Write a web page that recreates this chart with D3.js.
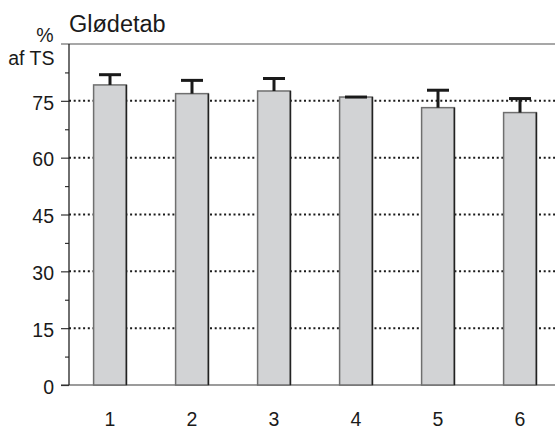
<!DOCTYPE html>
<html>
<head>
<meta charset="utf-8">
<script src="https://cdn.jsdelivr.net/npm/d3@7"></script>
<style>
  html, body { margin: 0; padding: 0; background: #fff; }
  svg { display: block; font-family: "Liberation Sans", Arial, Helvetica, sans-serif; }
</style>
</head>
<body>
<svg id="chart" width="555" height="431"></svg>
<script>
// Glødetab (% af TS) per sample, mean with upper error bar
const categories = ["1", "2", "3", "4", "5", "6"];
const means = [79.2, 76.9, 77.6, 76.0, 73.2, 71.9];
const errors = [2.7, 3.5, 3.3, 0, 4.6, 3.7];
const majorTicks = [0, 15, 30, 45, 60, 75];
const minorTicks = [7.5, 22.5, 37.5, 52.5, 67.5, 82.5];
const gridTicks = [15, 30, 45, 60, 75];

const W = 555, H = 431;
const plotLeft = 69, plotTop = 44, plotBottom = 385;
const labelSize = 19.5;

const svg = d3.select("#chart");

const x = d3.scaleBand()
  .domain(categories)
  .range([plotLeft, plotLeft + 492])
  .paddingInner(0.6)
  .paddingOuter(0.3);

const y = d3.scaleLinear()
  .domain([0, 90])
  .range([plotBottom, plotTop]);

// dotted gridlines behind the bars
svg.append("g")
  .selectAll("line")
  .data(gridTicks)
  .join("line")
  .attr("x1", plotLeft)
  .attr("x2", W)
  .attr("y1", d => y(d))
  .attr("y2", d => y(d))
  .attr("stroke", "#1a1a1a")
  .attr("stroke-width", 2)
  .attr("stroke-dasharray", "2 2.7");

// frame lines: top and baseline
svg.append("line")
  .attr("x1", plotLeft - 8).attr("x2", W)
  .attr("y1", y(90)).attr("y2", y(90))
  .attr("stroke", "#8a8a8a").attr("stroke-width", 1.5);
svg.append("line")
  .attr("x1", plotLeft - 8).attr("x2", W)
  .attr("y1", y(0)).attr("y2", y(0))
  .attr("stroke", "#7a7a7a").attr("stroke-width", 1.5);

// bars
const bars = svg.append("g");
bars.selectAll("rect")
  .data(means)
  .join("rect")
  .attr("x", (d, i) => x(categories[i]))
  .attr("y", d => y(d))
  .attr("width", x.bandwidth())
  .attr("height", d => y(0) - y(d))
  .attr("fill", "#d2d3d5")
  .attr("stroke", "#6f6f6f")
  .attr("stroke-width", 1.5);
bars.selectAll("line.redge")
  .data(means)
  .join("line")
  .attr("class", "redge")
  .attr("x1", (d, i) => x(categories[i]) + x.bandwidth())
  .attr("x2", (d, i) => x(categories[i]) + x.bandwidth())
  .attr("y1", d => y(d))
  .attr("y2", y(0))
  .attr("stroke", "#222")
  .attr("stroke-width", 1.5);

// error bars
const eb = svg.append("g").attr("stroke", "#1a1a1a");
eb.selectAll("line.stem")
  .data(means)
  .join("line")
  .attr("class", "stem")
  .attr("x1", (d, i) => x(categories[i]) + x.bandwidth() / 2)
  .attr("x2", (d, i) => x(categories[i]) + x.bandwidth() / 2)
  .attr("y1", d => y(d))
  .attr("y2", (d, i) => y(d + errors[i]))
  .attr("stroke-width", 3);
eb.selectAll("line.cap")
  .data(means)
  .join("line")
  .attr("class", "cap")
  .attr("x1", (d, i) => x(categories[i]) + x.bandwidth() / 2 - 11)
  .attr("x2", (d, i) => x(categories[i]) + x.bandwidth() / 2 + 11)
  .attr("y1", (d, i) => y(d + errors[i]))
  .attr("y2", (d, i) => y(d + errors[i]))
  .attr("stroke-width", 3);

// left axis: major ticks with labels, minor ticks without
const yAxis = svg.append("g")
  .attr("transform", `translate(${plotLeft},0)`)
  .call(d3.axisLeft(y).tickValues(majorTicks).tickSize(8).tickPadding(7));
yAxis.select(".domain").remove();
yAxis.selectAll(".tick line").attr("stroke", "#333").attr("stroke-width", 1.2);
yAxis.selectAll(".tick text")
  .attr("font-size", labelSize)
  .attr("fill", "#1a1a1a")
  .attr("dy", "0.42em")
  .style("font-family", "'Liberation Sans', Arial, sans-serif");

const yMinor = svg.append("g")
  .attr("transform", `translate(${plotLeft},0)`)
  .call(d3.axisLeft(y).tickValues(minorTicks).tickSize(4).tickFormat(""));
yMinor.select(".domain").remove();
yMinor.selectAll(".tick line").attr("stroke", "#333").attr("stroke-width", 1.2);

svg.append("line")
  .attr("x1", plotLeft).attr("x2", plotLeft)
  .attr("y1", y(90)).attr("y2", y(0))
  .attr("stroke", "#222").attr("stroke-width", 1.3);

// category labels
const xAxis = svg.append("g")
  .attr("transform", `translate(0,${plotBottom})`)
  .call(d3.axisBottom(x).tickSize(0).tickPadding(27.5));
xAxis.select(".domain").remove();
xAxis.selectAll(".tick text")
  .attr("font-size", labelSize)
  .attr("fill", "#1a1a1a")
  .style("font-family", "'Liberation Sans', Arial, sans-serif");

// titles
svg.append("text")
  .attr("x", 69).attr("y", 32)
  .attr("font-size", 23.5)
  .attr("fill", "#1a1a1a")
  .text("Glødetab");
svg.append("text")
  .attr("x", 45).attr("y", 42)
  .attr("text-anchor", "middle")
  .attr("font-size", labelSize)
  .attr("fill", "#1a1a1a")
  .text("%");
svg.append("text")
  .attr("x", 54.5).attr("y", 65)
  .attr("text-anchor", "end")
  .attr("font-size", labelSize)
  .attr("fill", "#1a1a1a")
  .text("af TS");
</script>
</body>
</html>
